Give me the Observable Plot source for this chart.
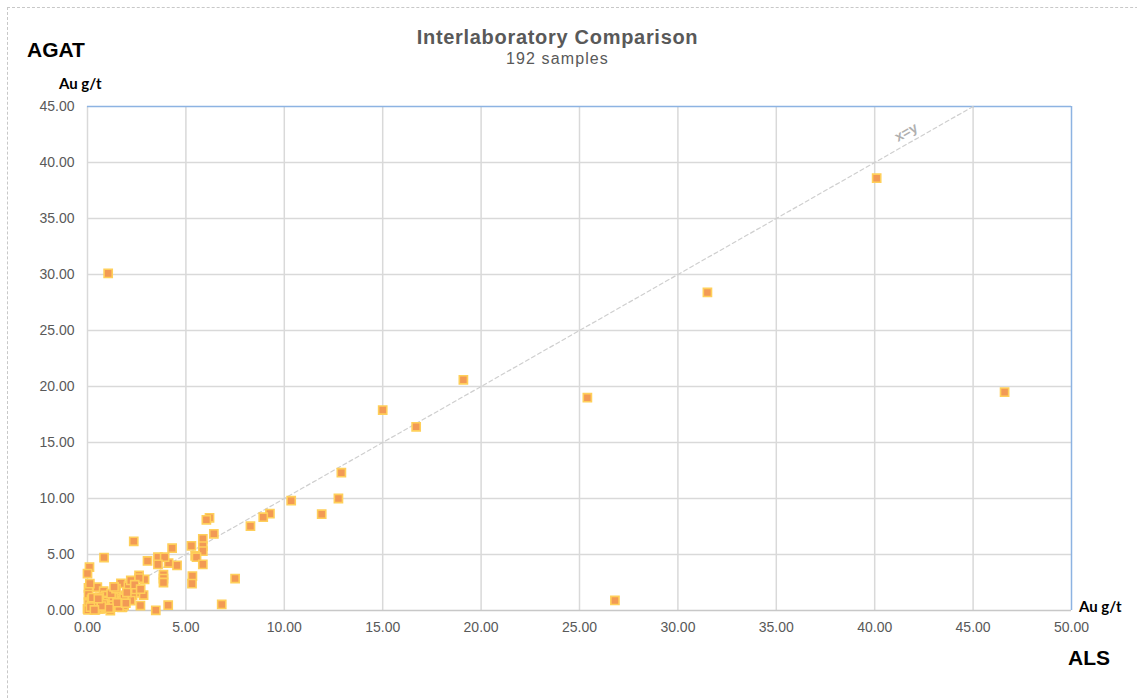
<!DOCTYPE html>
<html>
<head>
<meta charset="utf-8">
<script src="https://cdn.jsdelivr.net/npm/d3@7"></script>
<script src="https://cdn.jsdelivr.net/npm/@observablehq/plot@0.6"></script>
<style>
  html, body { margin: 0; padding: 0; background: #fff; }
  #wrap { position: relative; width: 1137px; height: 698px; overflow: hidden; font-family: "Liberation Sans", Arial, sans-serif; }
  #border { position: absolute; left: 7px; top: 7px; width: 1200px; height: 800px; border-left: 1px dashed #c8c8c8; border-top: 1px dashed #c8c8c8; }
  .lbl { position: absolute; white-space: nowrap; }
  #title { left: 0; width: 1115px; top: 26px; text-align: center; font-size: 20px; font-weight: bold; color: #595959; letter-spacing: 0.7px; }
  #subtitle { left: 0; width: 1115px; top: 50px; text-align: center; font-size: 16px; color: #595959; letter-spacing: 1.1px; }
  #agat { left: 27px; top: 38px; font-size: 21px; font-weight: bold; color: #000; }
  #als { left: 1068px; top: 646px; font-size: 21px; font-weight: bold; color: #000; }
  #yunit { left: 59px; top: 74px; font-size: 15px; font-weight: bold; font-family: Lato, "Liberation Sans", sans-serif; color: #000; }
  #xunit { left: 1079px; top: 597px; font-size: 15px; font-weight: bold; font-family: Lato, "Liberation Sans", sans-serif; color: #000; }
  #chart { position: absolute; left: 0; top: 0; }
</style>
</head>
<body>
<div id="wrap">
  <div id="border"></div>
  <div id="chart"></div>
  <div class="lbl" id="title">Interlaboratory Comparison</div>
  <div class="lbl" id="subtitle">192 samples</div>
  <div class="lbl" id="agat">AGAT</div>
  <div class="lbl" id="yunit">Au g/t</div>
  <div class="lbl" id="xunit">Au g/t</div>
  <div class="lbl" id="als">ALS</div>
</div>
<script>
// ALS Au g/t (x) vs AGAT Au g/t (y)
const alsValues = [
  1.05, 40.1, 31.5, 46.6, 25.4, 26.8, 19.1, 15.0, 16.7, 12.9,
  12.75, 11.9, 10.35, 9.27, 8.93, 8.28, 7.5, 6.82, 6.2, 6.04,
  6.42, 5.86, 5.86, 5.28, 5.86, 5.47, 5.54, 5.86, 5.33, 5.31,
  4.3, 4.55, 4.12, 3.58, 3.92, 3.05, 3.58, 2.35, 0.84, 0.1,
  0.0, 2.62, 3.86, 3.86, 3.86, 2.9, 2.25, 1.7, 4.1, 3.47,
  2.69, 1.78, 0.5, 0.05, 0.05, 0.82, 1.41, 2.62, 2.85, 1.91,
  0.92, 2.29, 0.05, 0.39, 0.73, 1.07, 1.41, 1.78, 0.0, 0.3,
  0.65, 1.16, 1.75, 2.08, 2.2, 2.62, 2.45, 2.2, 1.86, 0.46,
  1.0, 0.06, 0.67, 1.27, 1.86, 0.03, 0.57, 1.6, 0.2, 0.3,
  0.9, 1.3, 0.6, 1.5, 2.0, 0.15, 0.4, 0.8, 1.2, 2.4,
  1.1, 0.25, 0.7, 1.45, 1.95, 0.12, 0.55, 1.35, 2.7, 0.35
];
const agatValues = [
  30.1, 38.6, 28.4, 19.5, 19.0, 0.9, 20.6, 17.9, 16.4, 12.3,
  10.0, 8.6, 9.8, 8.65, 8.33, 7.53, 2.85, 0.54, 8.28, 8.1,
  6.85, 6.4, 5.75, 5.77, 5.3, 4.88, 4.76, 4.12, 3.08, 2.4,
  5.56, 4.03, 4.24, 4.76, 4.76, 4.42, 4.12, 6.18, 4.73, 3.87,
  3.3, 3.13, 3.2, 2.85, 2.5, 2.77, 2.64, 2.42, 0.47, 0.02,
  0.44, 0.3, 2.08, 2.03, 1.42, 1.72, 1.72, 1.58, 1.38, 1.34,
  1.34, 1.34, 0.74, 0.74, 0.89, 0.89, 1.04, 0.89, 0.15, 0.29,
  0.15, 0.0, 0.29, 2.17, 2.68, 2.89, 1.88, 0.89, 1.1, 0.89,
  0.8, 0.6, 0.51, 0.51, 0.45, 0.06, 0.15, 0.3, 1.0, 0.45,
  0.3, 1.2, 1.2, 0.7, 1.6, 0.3, 0.05, 0.6, 1.5, 2.3,
  0.2, 1.15, 0.4, 1.95, 0.65, 2.4, 1.05, 2.1, 1.9, 0.05
];
const xTicks = [0, 5, 10, 15, 20, 25, 30, 35, 40, 45, 50];
const yTicks = [0, 5, 10, 15, 20, 25, 30, 35, 40, 45];
const identityLine = [[0, 0], [45, 45]];
const identityLabel = [{x: 41.6, y: 42.7, text: "x=y"}];

const samples = alsValues.map((v, i) => ({als: v, agat: agatValues[i]}));

const chart = Plot.plot({
  width: 1137,
  height: 698,
  marginLeft: 87,
  marginRight: 66,
  marginTop: 106,
  marginBottom: 88,
  style: {fontFamily: "'Liberation Sans', Arial, sans-serif", background: "transparent", overflow: "visible"},
  x: {domain: [0, 50], ticks: xTicks, tickFormat: d => d.toFixed(2)},
  y: {domain: [0, 45], ticks: yTicks, tickFormat: d => d.toFixed(2)},
  marks: [
    Plot.ruleX(xTicks.filter(d => d < 50), {stroke: "#d9d9d9", strokeWidth: 1.5, strokeOpacity: 1}),
    Plot.ruleY(yTicks.filter(d => d > 0 && d < 45), {stroke: "#d9d9d9", strokeWidth: 1.5, strokeOpacity: 1}),
    Plot.ruleY([0], {stroke: "#c8c8c8", strokeWidth: 1.5}),
    Plot.ruleX([50], {stroke: "#8db3e2", strokeWidth: 1.5}),
    Plot.ruleY([45], {stroke: "#8db3e2", strokeWidth: 1.5}),
    Plot.axisX({ticks: xTicks, tickFormat: d => d.toFixed(2), tickSize: 0, tickPadding: 12, fontSize: 14, fill: "#595959", label: null}),
    Plot.axisY({ticks: yTicks, tickFormat: d => d.toFixed(2), tickSize: 0, tickPadding: 13, fontSize: 14, fill: "#595959", label: null}),
    Plot.line(identityLine, {x: d => d[0], y: d => d[1], stroke: "#cfcfcf", strokeWidth: 1.2, strokeDasharray: "4,3"}),
    Plot.text(identityLabel, {x: "x", y: "y", text: "text", rotate: -29.6, fontSize: 14, fontWeight: "bold", fill: "#b0b0b0"}),
    Plot.dot(samples, {x: "als", y: "agat", symbol: "square", r: 4.6, fill: "#f29a55", fillOpacity: 1, stroke: "#ffcf5a", strokeWidth: 1.6})
  ]
});
document.getElementById("chart").appendChild(chart);
</script>
</body>
</html>
